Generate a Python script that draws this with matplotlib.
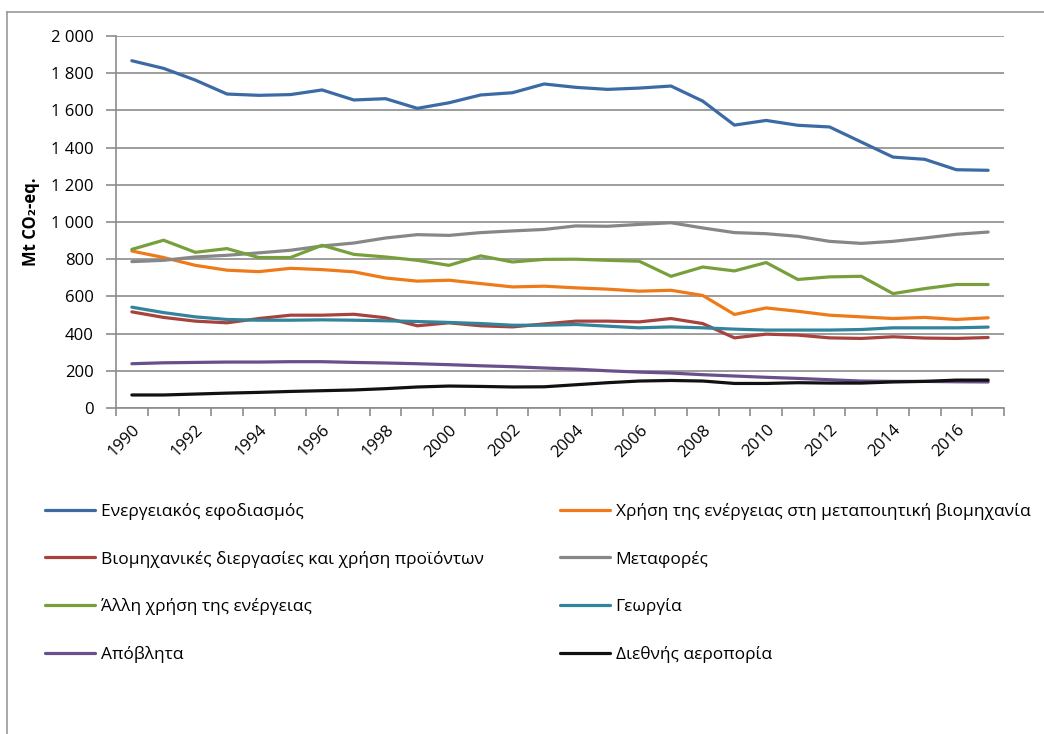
import matplotlib
matplotlib.use("Agg")
from matplotlib import pyplot as plt
from matplotlib.lines import Line2D
import numpy as np

years = list(range(1990, 2018))

energy_supply = [1867, 1826, 1763, 1688, 1681, 1685, 1710, 1656, 1663, 1611,
                 1641, 1683, 1695, 1742, 1724, 1713, 1720, 1731, 1650, 1521,
                 1546, 1520, 1511, 1430, 1349, 1337, 1281, 1278]
manufacturing = [844, 809, 767, 741, 733, 751, 744, 732, 699, 682,
                 687, 669, 651, 655, 646, 639, 628, 633, 605, 503,
                 538, 520, 499, 490, 481, 487, 476, 485]
industrial = [517, 487, 467, 458, 481, 499, 499, 504, 485, 442,
              458, 442, 436, 452, 467, 467, 463, 481, 454, 377,
              397, 392, 377, 374, 383, 376, 374, 379]
transport = [787, 794, 812, 821, 834, 848, 871, 887, 914, 932,
             928, 943, 952, 960, 979, 977, 987, 996, 968, 943,
             937, 923, 896, 885, 896, 914, 934, 946]
other_energy = [853, 902, 837, 857, 809, 809, 875, 826, 812, 794,
                767, 818, 785, 799, 800, 794, 789, 708, 758, 737,
                782, 691, 705, 708, 615, 642, 664, 664]
agriculture = [542, 513, 490, 476, 472, 472, 474, 472, 469, 465,
               460, 454, 445, 445, 449, 440, 431, 436, 431, 424,
               419, 419, 419, 422, 431, 431, 431, 435]
waste = [238, 243, 245, 247, 247, 249, 249, 245, 242, 238,
         233, 227, 222, 215, 209, 200, 193, 188, 179, 172,
         165, 159, 152, 145, 143, 143, 141, 140]
aviation = [70, 70, 75, 80, 84, 89, 93, 97, 104, 113,
            118, 116, 113, 114, 125, 136, 145, 148, 145, 132,
            132, 136, 134, 134, 140, 143, 150, 150]

labels = [
    "Ενεργειακός εφοδιασμός",
    "Χρήση της ενέργειας στη μεταποιητική βιομηχανία",
    "Βιομηχανικές διεργασίες και χρήση προϊόντων",
    "Μεταφορές",
    "Άλλη χρήση της ενέργειας",
    "Γεωργία",
    "Απόβλητα",
    "Διεθνής αεροπορία",
]
colors = ["#3c6aa4", "#ee7a1a", "#a8423f", "#878787",
          "#77a03c", "#31849b", "#69508c", "#111111"]
series = [energy_supply, manufacturing, industrial, transport,
          other_energy, agriculture, waste, aviation]

plt.rcParams["font.family"] = ["Open Sans", "DejaVu Sans"]

fig = plt.figure(figsize=(10.44, 7.34), dpi=100)
W, H = 1044, 734
ax = fig.add_axes([116 / W, 1 - 408 / H, (1004 - 116) / W, (408 - 36) / H])

x = np.arange(len(years))
for vals, col, lab in zip(series, colors, labels):
    ax.plot(x, vals, color=col, lw=2.3, label=lab, solid_capstyle="round")

grid_col = "#8c8c8c"
ax.set_xlim(-0.5, len(years) - 0.5)
ax.set_ylim(0, 2000)
ax.set_yticks(range(0, 2001, 200))
ax.set_yticklabels([f"{v:,}".replace(",", " ") for v in range(0, 2001, 200)])
ax.yaxis.grid(True, color=grid_col, lw=1.2)
ax.set_axisbelow(True)

ax.set_xticks(x[::2])
ax.set_xticklabels([str(y) for y in years[::2]], rotation=45,
                   ha="right", va="top", rotation_mode="anchor")
ax.set_xticks(np.arange(-0.5, len(years)), minor=True)
ax.tick_params(axis="x", which="major", length=0, pad=10, labelsize=12)
ax.tick_params(axis="x", which="minor", length=6, color=grid_col, width=1.2)
ax.tick_params(axis="y", length=7, color=grid_col, width=1.2, pad=9,
               labelsize=12)

for side in ["top", "right"]:
    ax.spines[side].set_visible(False)
for side in ["left", "bottom"]:
    ax.spines[side].set_color(grid_col)
    ax.spines[side].set_linewidth(1.2)

ax.set_ylabel("Mt CO₂-eq.", fontweight="bold", fontsize=12, labelpad=8)

# outer chart frame
fig.add_artist(Line2D([7 / W, 1.0], [1 - 12 / H, 1 - 12 / H],
                      color="#9a9a9a", lw=1.2, transform=fig.transFigure))
fig.add_artist(Line2D([7 / W, 7 / W], [0, 1 - 12 / H],
                      color="#9a9a9a", lw=1.2, transform=fig.transFigure))

handles, labs = ax.get_legend_handles_labels()
leg_kw = dict(frameon=False, fontsize=12.5, handlelength=2.9, handletextpad=0.3,
              labelspacing=1.76, loc="upper left", borderaxespad=0, borderpad=0)
left_idx = [0, 2, 4, 6]
right_idx = [1, 3, 5, 7]
leg1 = fig.legend([handles[i] for i in left_idx], [labs[i] for i in left_idx],
                  bbox_to_anchor=(45 / W, 1 - 503 / H), **leg_kw)
leg2 = fig.legend([handles[i] for i in right_idx], [labs[i] for i in right_idx],
                  bbox_to_anchor=(560 / W, 1 - 503 / H), **leg_kw)

fig.savefig("out.png", dpi=100)
